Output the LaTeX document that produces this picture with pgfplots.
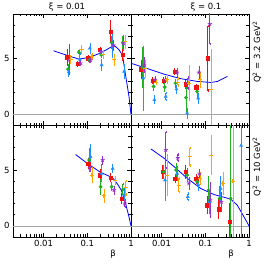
\documentclass[border=0pt]{standalone}
\usepackage{pgfplots}
\pgfplotsset{compat=1.18}
\usepackage{fontspec}
\setmainfont{DejaVu Sans}
\definecolor{cred}{HTML}{F01010}
\definecolor{cgreen}{HTML}{20B020}
\definecolor{cblue}{HTML}{1E90FF}
\definecolor{cpurple}{HTML}{9932CC}
\definecolor{corange}{HTML}{FFA500}
\definecolor{ccurve}{HTML}{0000FF}
\pgfplotsset{
  mypanel/.style={scale only axis, width=118pt, height=111.5pt,
    xmin=0.002, xmax=1, ymin=-1, ymax=9, ytick={0,5}, minor ytick={1,2,3,4,6,7,8},
    xtick={0.01,0.1,1},
    minor xtick={0.002,0.003,0.004,0.005,0.006,0.007,0.008,0.009,0.02,0.03,0.04,0.05,0.06,0.07,0.08,0.09,0.2,0.3,0.4,0.5,0.6,0.7,0.8,0.9},
    axis line style={line width=0.7pt}, tick style={line width=0.6pt, black},
    major tick length=4pt, minor tick length=2.5pt,
    font=\fontsize{8.5}{10}\selectfont,
    xticklabel style={/pgf/number format/assume math mode=true},
    yticklabel style={/pgf/number format/assume math mode=true},
    anchor=south west},
  mybase/.style={only marks, error bars/y dir=both, error bars/y explicit,
    error bars/error bar style={line width=0.65pt}, error bars/error mark options={mark size=1.2pt, line width=0.5pt}},
  sred/.style={color=cred, mark=square*, mark size=1.6pt, mybase},
  sgreen/.style={color=cgreen, mark=*, mark size=1.7pt, mybase},
  sblue/.style={color=cblue, mark=triangle*, mark size=1.8pt, mybase},
  spurple/.style={color=cpurple, mark=star, mark size=2.1pt, mark options={line width=0.8pt}, mybase},
  sorange/.style={color=corange, mark=+, mark size=2.1pt, mark options={line width=1pt}, mybase},
  mycurve/.style={color=ccurve, line width=0.8pt, no marks},
  myzero/.style={color=black!35, line width=0.6pt, no marks},
}
\begin{document}
\begin{tikzpicture}
\useasboundingbox (0pt,0pt) rectangle (269pt,264pt);
% top left
\begin{axis}[xmode=log, mypanel, at={(13pt,138.5pt)}, xticklabels={}]
\addplot[myzero] coordinates {(0.002,0) (1,0)};
\addplot[mycurve] coordinates {(0.017,5.7) (0.034,5.3) (0.064,4.95) (0.11,5.1) (0.2,5.5) (0.29,5.85) (0.41,6.2) (0.53,5.8) (0.64,5.3) (0.76,3.4) (0.9,1.6) (1,0)};
\addplot[sred] coordinates {(0.0344,5.12) +- (0,0.67) (0.0605,4.52) +- (0,0.15) (0.1047,5.03) +- (0,0.2) (0.1945,5.77) +- (0,0.2) (0.343,7.41) +- (0,0.9) (0.636,5.33) +- (0,0.4)};
\addplot[sgreen] coordinates {(0.0363,4.05) +- (0,0.4) (0.0639,5.57) +- (0,0.2) (0.1104,4.88) +- (0,0.2) (0.209,5.33) +- (0,0.2) (0.361,6.43) +- (0,0.5) (0.648,6.43) +- (0,0.6)};
\addplot[sblue] coordinates {(0.0376,3.8) +- (0,0.3) (0.0674,4.95) +- (0,0.5) (0.1145,5.92) +- (0,0.4) (0.213,4.43) +- (0,0.4) (0.381,6.2) +- (0,1.0) (0.695,3.84) +- (0,0.6)};
\addplot[spurple] coordinates {(0.0389,4.9) +- (0,1.3) (0.070,4.58) +- (0,0.15) (0.1186,4.88) +- (0,0.15) (0.2018,5.6) +- (0,0.2) (0.395,6.2) +- (0,0.4) (0.671,6.4) +- (0,0.4)};
\addplot[sorange] coordinates {(0.0417,4.9) +- (0,0.3) (0.0737,5.83) +- (0,0.3) (0.1274,5.18) +- (0,0.2) (0.2325,5.33) +- (0,0.3) (0.409,4.88) +- (0,0.4) (0.733,6.5) +- (0,0.5)};
\end{axis}
% top right
\begin{axis}[xmode=log, mypanel, at={(131pt,138.5pt)}, xticklabels={}, yticklabels={}]
\addplot[myzero] coordinates {(0.002,0) (1,0)};
\addplot[mycurve] coordinates {(0.002,4.58) (0.0048,4.1) (0.0115,3.6) (0.0275,3.2) (0.066,2.95) (0.135,2.86) (0.19,2.95) (0.32,3.4)};
\addplot[sred] coordinates {(0.00338,4.05) +- (0,0.75) (0.00627,3.0) +- (0,0.2) (0.0110,3.0) +- (0,0.2) (0.0197,3.84) +- (0,0.2) (0.0352,2.7) +- (0,0.3) (0.0618,2.44) +- (0,0.2) (0.114,5.03) +- (0,2.9)};
\addplot[sgreen] coordinates {(0.0037,4.2) +- (0,1.7) (0.0066,2.5) +- (0,0.3) (0.0118,2.44) +- (0,0.3) (0.0208,2.8) +- (0,0.3) (0.0364,1.5) +- (0,1.2) (0.0651,2.05) +- (0,0.5)};
\addplot[sblue] coordinates {(0.00383,3.25) +- (0,2.8) (0.00684,1.3) +- (0,0.3) (0.0125,1.6) +- (0,0.3) (0.0219,2.26) +- (0,0.3) (0.0385,0.1) +- (0,0.4) (0.0687,1.45) +- (0,0.4)};
\addplot[spurple] coordinates {(0.00404,4.4) +- (0,0.6) (0.00709,3.1) +- (0,0.2) (0.0122,3.1) +- (0,0.2) (0.0227,3.75) +- (0,0.3) (0.0398,2.8) +- (0,0.5) (0.0713,3.75) +- (0,0.5) (0.127,8.1) +- (0,1.8)};
\addplot[sorange] coordinates {(0.00426,4.1) +- (0,0.7) (0.00748,2.9) +- (0,0.2) (0.0132,3.1) +- (0,0.3) (0.0235,2.9) +- (0,0.3) (0.0421,2.8) +- (0,1.5) (0.0765,3.1) +- (0,0.6) (0.137,2.26) +- (0,3.5)};
\end{axis}
% bottom left
\begin{axis}[xmode=log, mypanel, at={(13pt,27pt)}, xticklabels={0.01,0.1,1}]
\addplot[myzero] coordinates {(0.002,0) (1,0)};
\addplot[mycurve] coordinates {(0.054,6.4) (0.1,5.6) (0.2,4.8) (0.3,4.5) (0.4,4.2) (0.5,3.7) (0.6,3.2) (0.7,2.5) (0.8,1.6) (0.9,0.8) (1,0)};
\addplot[sred] coordinates {(0.1047,5.6) +- (0,0.4) (0.1945,4.55) +- (0,0.4) (0.343,4.3) +- (0,0.3) (0.604,2.45) +- (0,0.4)};
\addplot[sgreen] coordinates {(0.1104,5.9) +- (0,1.0) (0.2018,3.5) +- (0,0.6) (0.361,3.5) +- (0,0.3) (0.648,3.26) +- (0,0.5)};
\addplot[sblue] coordinates {(0.1186,6.2) +- (0,1.0) (0.213,4.7) +- (0,0.7) (0.381,5.15) +- (0,0.3) (0.695,2.75) +- (0,0.6)};
\addplot[spurple] coordinates {(0.1145,5.2) +- (0,0.3) (0.2245,5.9) +- (0,0.3) (0.409,3.2) +- (0,0.3) (0.72,2.0) +- (0,0.3)};
\addplot[sorange] coordinates {(0.1274,4.55) +- (0,0.6) (0.241,2.7) +- (0,0.5) (0.432,4.1) +- (0,0.3) (0.760,3.4) +- (0,0.6)};
\end{axis}
% bottom right
\begin{axis}[xmode=log, mypanel, at={(131pt,27pt)}, xticklabels={0.01,0.1,1}, yticklabels={}]
\addplot[myzero] coordinates {(0.002,0) (1,0)};
\addplot[mycurve] coordinates {(0.0057,6.9) (0.0115,6.05) (0.0195,5.3) (0.039,4.25) (0.079,3.35) (0.16,2.8) (0.38,2.4) (0.54,1.85) (0.77,0.8) (1,0)};
\addplot[sred] coordinates {(0.0106,4.85) +- (0,0.5) (0.0204,4.25) +- (0,0.3) (0.0352,4.85) +- (0,0.5) (0.0618,4.2) +- (0,0.3) (0.110,1.85) +- (0,0.7) (0.201,1.5) +- (0,0.8) (0.359,0.4) +- (0,1.5)};
\addplot[sgreen] coordinates {(0.0112,4.85) +- (0,0.5) (0.0215,5.0) +- (0,0.5) (0.0385,4.55) +- (0,0.5) (0.0651,3.95) +- (0,0.4) (0.119,3.2) +- (0,1.2) (0.212,2.45) +- (0,1.0) (0.379,2.45) +- (0,6.8)};
\addplot[sblue] coordinates {(0.0120,4.1) +- (0,1.8) (0.0227,4.7) +- (0,0.6) (0.0398,2.6) +- (0,0.3) (0.070,3.65) +- (0,0.4) (0.125,2.15) +- (0,1.0) (0.224,3.35) +- (0,1.0) (0.66,7.2) +- (0,8.5)};
\addplot[spurple] coordinates {(0.0125,6.8) +- (0,1.6) (0.0235,6.1) +- (0,0.3) (0.0421,3.8) +- (0,0.5) (0.0738,4.7) +- (0,0.3) (0.130,2.3) +- (0,1.5) (0.232,2.15) +- (0,0.8)};
\addplot[sorange] coordinates {(0.0134,4.55) +- (0,1.8) (0.0248,3.65) +- (0,0.6) (0.0443,6.2) +- (0,0.8) (0.0765,4.25) +- (0,0.5) (0.137,6.35) +- (0,1.7) (0.253,3.8) +- (0,0.9) (0.429,4.0) +- (0,5.5)};
\end{axis}
\begin{scope}[font=\fontsize{8.5}{10}\selectfont]
\node[anchor=base] at (67pt,254.5pt) {ξ = 0.01};
\node[anchor=base] at (206pt,254.5pt) {ξ = 0.1};
\node[rotate=90] at (257pt,212pt) {Q\textsuperscript{2} = 3.2 GeV\textsuperscript{2}};
\node[rotate=90] at (257pt,97pt) {Q\textsuperscript{2} = 10 GeV\textsuperscript{2}};
\node at (113pt,10pt) {β};
\node at (231pt,10pt) {β};
\end{scope}
\end{tikzpicture}
\end{document}
